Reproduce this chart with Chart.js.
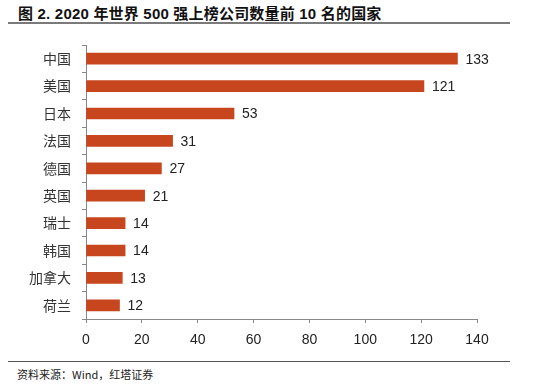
<!DOCTYPE html>
<html>
<head>
<meta charset="utf-8">
<script src="https://cdn.jsdelivr.net/npm/chart.js@4"></script>
<style>
  body { margin: 0; background: #fff; width: 550px; height: 386px; position: relative; overflow: hidden; }
  #title { position: absolute; left: 18px; top: 2px; font: bold 15px Arial, "Liberation Sans", "Noto Sans CJK SC", sans-serif; letter-spacing: 0.2px; color: #111; white-space: nowrap; }
  #ruleTop { position: absolute; left: 8px; top: 22px; width: 502px; height: 2px; background: #7a7a7a; }
  #ruleBottom { position: absolute; left: 8px; top: 361px; width: 502px; height: 1px; background: #555; }
  #note { position: absolute; left: 17px; top: 366px; font: 11px "Noto Sans CJK SC", Arial, sans-serif; color: #222; white-space: nowrap; }
  #wrap { position: absolute; left: 0; top: 30px; width: 550px; height: 320px; }
</style>
</head>
<body>
<div id="title">图 2. 2020 年世界 500 强上榜公司数量前 10 名的国家</div>
<div id="ruleTop"></div>
<div id="wrap"><canvas id="barChart"></canvas></div>
<div id="ruleBottom"></div>
<div id="note">资料来源：Wind，红塔证券</div>
<script>
var countries = ["中国", "美国", "日本", "法国", "德国", "英国", "瑞士", "韩国", "加拿大", "荷兰"];
var companyCounts = [133, 121, 53, 31, 27, 21, 14, 14, 13, 12];
var xTicks = [0, 20, 40, 60, 80, 100, 120, 140];

// draw the number next to each bar
var valueLabels = {
    id: "valueLabels",
    afterDatasetsDraw: function (chart) {
        var ctx = chart.ctx;
        var meta = chart.getDatasetMeta(0);
        ctx.save();
        ctx.font = "14px Arial, 'Liberation Sans', sans-serif";
        ctx.fillStyle = "#222";
        ctx.textAlign = "left";
        ctx.textBaseline = "middle";
        meta.data.forEach(function (bar, i) {
            ctx.fillText(companyCounts[i], bar.x + 8, bar.y + 1);
        });
        ctx.restore();
    }
};

var ctx = document.getElementById("barChart");
new Chart(ctx, {
    type: "bar",
    data: {
        labels: countries,
        datasets: [
            {
                data: companyCounts,
                backgroundColor: "#C8461E",
                barThickness: 11,
            },
        ],
    },
    options: {
        indexAxis: "y",
        responsive: true,
        maintainAspectRatio: false,
        animation: false,
        layout: { padding: { top: 15, right: 73, left: 0, bottom: 0 } },
        plugins: {
            legend: { display: false },
            tooltip: { enabled: false },
        },
        scales: {
            x: {
                min: 0,
                max: 140,
                afterBuildTicks: function (scale) {
                    scale.ticks = xTicks.map(function (v) { return { value: v }; });
                },
                afterFit: function (scale) {
                    scale.height = 31;
                    scale.paddingLeft = 0;
                    scale.paddingRight = 0;
                },
                grid: { drawOnChartArea: false, tickLength: 4, color: "#888" },
                border: { color: "#888" },
                ticks: {
                    padding: 9,
                    color: "#222",
                    font: { family: "Arial, 'Liberation Sans', sans-serif", size: 14 },
                },
            },
            y: {
                afterFit: function (scale) {
                    scale.width = 86;
                    scale.paddingTop = 0;
                    scale.paddingBottom = 0;
                },
                grid: { drawOnChartArea: false, tickLength: 4, color: "#888" },
                border: { color: "#888" },
                ticks: {
                    padding: 11,
                    color: "#333",
                    font: { family: "'Noto Sans CJK SC', sans-serif", size: 14 },
                },
            },
        },
    },
    plugins: [valueLabels],
});
</script>
</body>
</html>
